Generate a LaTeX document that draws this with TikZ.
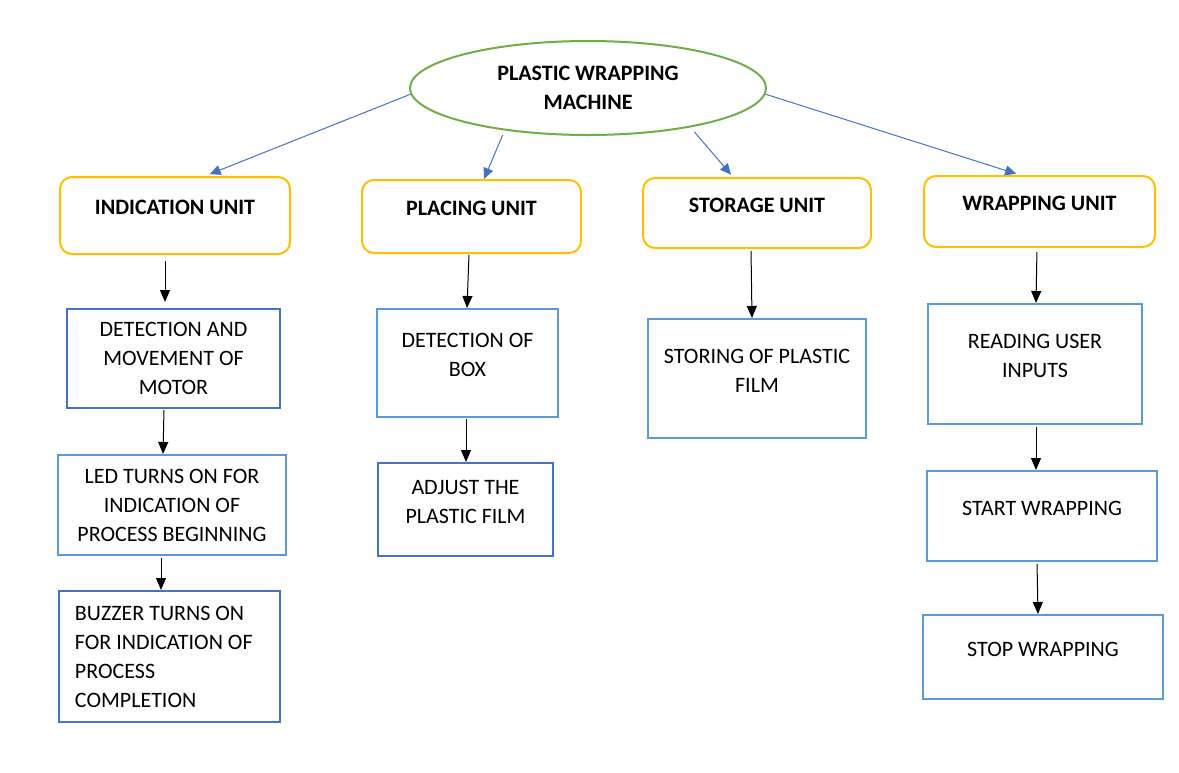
\documentclass[tikz,border=0pt]{standalone}
\usepackage{fontspec}
\setmainfont{Carlito}
\usepackage{tikz}
\usetikzlibrary{shapes.geometric,arrows.meta}
\definecolor{unitcolor}{HTML}{FFC000}
\definecolor{maincolor}{HTML}{70AD47}
\definecolor{darkblue}{HTML}{4472C4}
\definecolor{lightblue}{HTML}{5B9BD5}
\newcommand{\lift}{8pt}
\newcommand{\upbox}[3]{\parbox[c][#2][c]{#1}{\centering #3\par\vspace{\lift}}}
\newcommand{\midbox}[3]{\parbox[c][#2][c]{#1}{\centering #3\par}}

\tikzset{
  unitbox/.style={draw=unitcolor, line width=1pt, rounded corners=6pt, inner sep=0pt},
  darkbox/.style={draw=darkblue, line width=1pt, inner sep=0pt},
  lightbox/.style={draw=lightblue, line width=1pt, inner sep=0pt},
  link/.style={draw=darkblue, line width=0.5pt, -{Triangle[length=5.5pt,width=5pt]}, darkblue},
  flow/.style={draw=black, line width=0.5pt, -{Triangle[length=6pt,width=5pt]}}
}

\begin{document}
\begin{tikzpicture}[x=0.5pt, y=-0.5pt, font=\fontsize{11pt}{14.5pt}\selectfont]
\useasboundingbox (0,0) rectangle (1179,772);
\node[ellipse, draw=maincolor, line width=1pt, minimum width=178pt, minimum height=47pt, inner sep=0pt, align=center] (main) at (588, 88) {\textbf{PLASTIC WRAPPING}\\\textbf{MACHINE}};
%units
\node[unitbox] (ind) at (175, 215.5) {\upbox{115pt}{38.5pt}{\textbf{INDICATION UNIT}}};
\node[unitbox] (plc) at (471.5, 216.5) {\upbox{109.5pt}{36.5pt}{\textbf{PLACING UNIT}}};
\node[unitbox] (sto) at (757, 213) {\upbox{114pt}{35pt}{\textbf{STORAGE UNIT}}};
\node[unitbox] (wrp) at (1039.5, 211.5) {\upbox{115.5pt}{35.5pt}{\textbf{WRAPPING UNIT}}};
%indication
\node[darkbox] (motor) at (173.5, 358.5) {\midbox{106.5pt}{49.5pt}{DETECTION AND\\MOVEMENT OF\\MOTOR}};
\node[lightbox] (led) at (172, 505) {\midbox{114pt}{50pt}{LED TURNS ON FOR\\INDICATION OF\\PROCESS BEGINNING}};
\node[darkbox] (buzzer) at (169.5, 656.5) {\parbox[c][65.5pt][c]{110.5pt}{\leftskip=8pt BUZZER TURNS ON\\FOR INDICATION OF\\PROCESS\\COMPLETION\par}};
%placing
\node[lightbox] (box) at (467.5, 363) {\upbox{90.5pt}{54pt}{DETECTION OF\\BOX}};
\node[darkbox] (adjust) at (465.5, 509.5) {\upbox{87.5pt}{46.5pt}{ADJUST THE\\PLASTIC FILM}};
%storage
\node[lightbox] (film) at (757, 378.5) {\upbox{109pt}{59.5pt}{STORING OF PLASTIC\\FILM}};
%wrapping
\node[lightbox] (input) at (1035, 364) {\upbox{107pt}{60pt}{READING USER\\INPUTS}};
\node[lightbox] (start) at (1042, 516) {\upbox{115pt}{45pt}{START WRAPPING}};
\node[lightbox] (stop) at (1043, 657) {\upbox{120pt}{42pt}{STOP WRAPPING}};
%main to units
\draw[link, shorten >=2.5pt] (main.182) -- ([xshift=15pt]ind.north);
\draw[link, shorten <=2.5pt] (main.207) -- ([xshift=6.25pt]plc.north);
\draw[link, shorten <=3pt, shorten >=1.5pt] (main.339) -- ([xshift=-12pt]sto.north);
\draw[link, shorten >=2pt] (main.358) -- ([xshift=-9.75pt]wrp.north);
%units to tasks
\draw[flow, shorten <=3pt, shorten >=3pt] ([xshift=-5pt]ind.south) -- ([xshift=-4.25pt]motor.north);
\draw[flow, shorten <=0.5pt] ([xshift=-4.75pt]motor.south) -- ([xshift=-4.5pt]led.north);
\draw[flow, shorten <=1pt] ([xshift=-5.5pt]led.south) -- ([xshift=-4.25pt]buzzer.north);
\draw[flow, shorten <=0.5pt] ([xshift=-1.25pt]plc.south) -- ([xshift=-0.25pt]box.north);
\draw[flow, shorten <=0.5pt] ([xshift=-0.75pt]box.south) -- ([xshift=0.25pt]adjust.north);
\draw[flow, shorten <=1pt] ([xshift=-3pt]sto.south) -- ([xshift=-2.5pt]film.north);
\draw[flow, shorten <=2pt] ([xshift=-1.25pt]wrp.south) -- ([xshift=0.5pt]input.north);
\draw[flow, shorten <=1pt] ([xshift=0.5pt]input.south) -- ([xshift=-3pt]start.north);
\draw[flow, shorten <=1pt] ([xshift=-2.5pt]start.south) -- ([xshift=-2.5pt]stop.north);
\end{tikzpicture}
\end{document}
